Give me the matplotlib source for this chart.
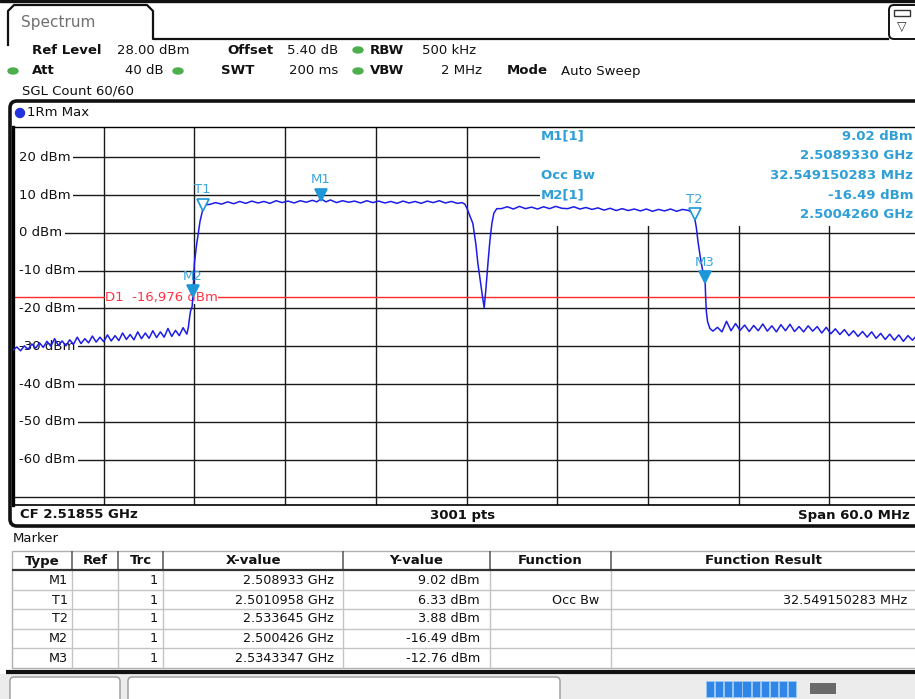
import matplotlib.pyplot as plt
from matplotlib.patches import Rectangle, FancyBboxPatch, Ellipse
from matplotlib.transforms import offset_copy

W, H = 915, 699

# analyzer settings
start_ghz = 2.48855
span_mhz = 60.0
ref_level = 28.0
db_per_div = 10.0
d1_level = -16.976
y_tick_values = [20, 10, 0, -10, -20, -30, -40, -50, -60]

# trace: offset from start frequency (MHz) and level (dBm)
low_left_mhz = [0.0, 0.25, 0.5, 0.75, 1.0, 1.25, 1.5, 1.75, 2.0, 2.25, 2.5, 2.75, 3.0, 3.25,
                3.5, 3.75, 4.0, 4.25, 4.5, 4.75, 5.0, 5.25, 5.5, 5.75, 6.0, 6.25, 6.5, 6.75,
                7.0, 7.25, 7.5, 7.75, 8.0, 8.25, 8.5, 8.75, 9.0, 9.25, 9.5, 9.75, 10.0,
                10.25, 10.5, 10.75, 11.0, 11.25, 11.5]
low_left_dbm = [-31.0, -30.2, -31.2, -29.9, -30.8, -29.4, -30.5, -29.1, -30.3, -28.7, -30.0,
                -28.0, -29.8, -28.6, -29.9, -28.3, -29.5, -27.6, -29.3, -28.0, -29.1, -27.3,
                -28.9, -27.6, -28.8, -27.0, -28.6, -27.2, -28.5, -26.5, -28.2, -26.9, -28.3,
                -26.2, -28.0, -26.5, -27.9, -25.9, -27.7, -26.2, -27.6, -25.3, -27.4, -25.8,
                -27.2, -25.1, -26.8]
rise_mhz = [11.6, 11.66, 11.74, 11.8, 11.85, 11.9, 11.95, 12.0, 12.15, 12.37, 12.59, 12.8]
rise_dbm = [-25.0, -23.0, -20.8, -20.0, -19.5, -16.5, -12.0, -8.0, -3.0, 3.0, 6.8, 7.5]
band1_mhz = [13.0, 13.4, 13.8, 14.2, 14.6, 15.0, 15.4, 15.8, 16.2, 16.6, 17.0, 17.4, 17.8,
             18.2, 18.6, 19.0, 19.4, 19.8, 20.1, 20.38, 20.7, 21.0, 21.4, 21.8, 22.2, 22.6,
             23.0, 23.4, 23.8, 24.2, 24.6, 25.0, 25.4, 25.8, 26.2, 26.6, 27.0, 27.4, 27.8,
             28.2, 28.6, 29.0, 29.4, 29.7]
band1_dbm = [7.5, 8.0, 7.6, 8.2, 7.7, 8.3, 7.8, 8.4, 7.9, 8.3, 7.8, 8.5, 8.0, 8.4, 7.9, 8.5,
             8.1, 8.6, 8.2, 9.0, 8.2, 8.7, 8.0, 8.5, 8.1, 8.4, 7.9, 8.5, 8.0, 8.4, 7.9, 8.3,
             7.8, 8.4, 7.9, 8.3, 7.8, 8.4, 8.0, 8.5, 7.9, 8.3, 7.8, 8.0]
notch_mhz = [29.89, 30.03, 30.22, 30.42, 30.62, 30.75, 30.92, 31.08, 31.17, 31.28, 31.42,
             31.55, 31.68, 31.81, 32.0]
notch_dbm = [7.6, 6.5, 4.5, 2.5, -3.0, -8.0, -13.0, -17.5, -19.8, -15.0, -8.0, -2.0, 2.5,
             5.2, 6.4]
band2_mhz = [32.3, 32.7, 33.1, 33.5, 33.9, 34.3, 34.7, 35.1, 35.5, 35.9, 36.3, 36.7, 37.1,
             37.5, 37.9, 38.3, 38.7, 39.1, 39.5, 39.9, 40.3, 40.7, 41.1, 41.5, 41.9, 42.3,
             42.7, 43.1, 43.5, 43.9, 44.3, 44.7, 45.0]
band2_dbm = [6.4, 6.9, 6.3, 7.0, 6.4, 6.8, 6.3, 6.9, 6.4, 7.0, 6.5, 6.4, 6.9, 6.3, 6.7, 6.2,
             6.6, 6.0, 6.5, 5.9, 6.4, 5.9, 6.3, 5.8, 6.3, 5.7, 6.2, 5.8, 6.3, 5.7, 6.2, 5.9,
             5.2]
fall_mhz = [45.095, 45.2, 45.32, 45.45, 45.6, 45.75, 45.785, 45.82, 45.87, 45.95, 46.1, 46.3]
fall_dbm = [3.88, 1.5, -2.5, -6.0, -9.5, -12.0, -12.76, -17.0, -21.0, -23.5, -25.3, -26.0]
low_right_mhz = [46.6, 46.9, 47.2, 47.5, 47.8, 48.1, 48.4, 48.7, 49.0, 49.3, 49.6, 49.9, 50.2,
                 50.5, 50.8, 51.1, 51.4, 51.7, 52.0, 52.3, 52.6, 52.9, 53.2, 53.5, 53.8, 54.1,
                 54.4, 54.7, 55.0, 55.3, 55.6, 55.9, 56.2, 56.5, 56.8, 57.1, 57.4, 57.7, 58.0,
                 58.3, 58.6, 58.9, 59.2, 59.5, 59.8, 60.0]
low_right_dbm = [-25.0, -26.2, -23.4, -25.9, -24.0, -25.8, -24.4, -26.1, -24.5, -25.9, -24.1,
                 -26.0, -24.6, -26.2, -24.3, -25.9, -24.2, -26.1, -24.8, -26.2, -24.6, -26.0,
                 -24.8, -26.5, -25.0, -26.7, -25.4, -26.9, -25.6, -27.2, -25.9, -27.4, -26.1,
                 -27.6, -26.2, -27.9, -26.6, -28.2, -26.8, -28.4, -27.0, -28.7, -27.2, -28.4,
                 -27.1, -27.9]

# markers
marker_names = ['M1', 'T1', 'T2', 'M2', 'M3']
marker_ghz = [2.508933, 2.5010958, 2.533645, 2.500426, 2.5343347]
marker_dbm = [9.02, 6.33, 3.88, -16.49, -12.76]
marker_filled = [True, False, False, True, True]

# marker table
table_headers = ['Type', 'Ref', 'Trc', 'X-value', 'Y-value', 'Function', 'Function Result']
table_type = ['M1', 'T1', 'T2', 'M2', 'M3']
table_trc = ['1', '1', '1', '1', '1']
table_x = ['2.508933 GHz', '2.5010958 GHz', '2.533645 GHz', '2.500426 GHz', '2.5343347 GHz']
table_y = ['9.02 dBm', '6.33 dBm', '3.88 dBm', '-16.49 dBm', '-12.76 dBm']
table_func = ['', 'Occ Bw', '', '', '']
table_result = ['', '32.549150283 MHz', '', '', '']

# marker info box
info_left = ['M1[1]', '', 'Occ Bw', 'M2[1]', '']
info_right = ['9.02 dBm', '2.5089330 GHz', '32.549150283 MHz', '-16.49 dBm', '2.5004260 GHz']

trace_mhz = low_left_mhz + rise_mhz + band1_mhz + notch_mhz + band2_mhz + fall_mhz + low_right_mhz
trace_dbm = low_left_dbm + rise_dbm + band1_dbm + notch_dbm + band2_dbm + fall_dbm + low_right_dbm
trace_ghz = [start_ghz + f / 1000.0 for f in trace_mhz]

plt.rcParams['font.family'] = ['DejaVu Sans']
fig = plt.figure(figsize=(W / 100, H / 100), dpi=100)
fig.patch.set_facecolor('white')

# background canvas in pixel coordinates
bg = fig.add_axes([0, 0, 1, 1])
bg.set_xlim(0, W)
bg.set_ylim(H, 0)
bg.axis('off')


def ptext(x, y, s, **kw):
    kw.setdefault('va', 'center')
    kw.setdefault('fontsize', 9.5)
    kw.setdefault('color', '#111111')
    fig.text(x / W, 1 - y / H, s, **kw)


def hline(y, x0, x1, **kw):
    bg.plot([x0, x1], [y, y], solid_capstyle='butt', **kw)


def vline(x, y0, y1, **kw):
    bg.plot([x, x], [y0, y1], solid_capstyle='butt', **kw)


# screen top edge and tab
bg.add_patch(Rectangle((0, 0), W, 2, color='#111111'))
bg.plot([8, 8, 14, 147, 153, 153, 888], [45, 11, 5, 5, 11, 39, 39], color='#111111', lw=1.6)
ptext(21, 23, 'Spectrum', fontsize=11, color='#707070')
bg.add_patch(FancyBboxPatch((889, 5), 30, 34, boxstyle='round,pad=0,rounding_size=5',
                            fc='white', ec='#111111', lw=1.4))
bg.add_patch(Rectangle((894, 10), 16, 6, fc='none', ec='#333333', lw=1))
ptext(902, 27, '\u25bd', fontsize=9, ha='center', color='#333333')

# setting lines
ptext(32, 50, 'Ref Level', fontweight='bold')
ptext(117, 50, '28.00 dBm')
ptext(227, 50, 'Offset', fontweight='bold')
ptext(287, 50, '5.40 dB')
ptext(370, 50, 'RBW', fontweight='bold')
ptext(422, 50, '500 kHz')
ptext(32, 71, 'Att', fontweight='bold')
ptext(164, 71, '40 dB', ha='right')
ptext(221, 71, 'SWT', fontweight='bold')
ptext(289, 71, '200 ms')
ptext(370, 71, 'VBW', fontweight='bold')
ptext(482, 71, '2 MHz', ha='right')
ptext(507, 71, 'Mode', fontweight='bold')
ptext(561, 71, 'Auto Sweep')
ptext(22, 91, 'SGL Count 60/60')
for dx, dy in [(13, 71), (178, 71), (358, 50), (358, 71)]:
    bg.add_patch(Ellipse((dx, dy), 10, 6, color='#4cae4c'))

# plot window frame
bg.add_patch(FancyBboxPatch((10, 101), 920, 425, boxstyle='round,pad=0,rounding_size=7',
                            fc='white', ec='#111111', lw=2.6))
bg.add_patch(Ellipse((20, 113), 9, 9, color='#2233dd'))
ptext(27, 113, '1Rm Max')
ptext(20, 515, 'CF 2.51855 GHz', fontweight='bold')
ptext(463, 515, '3001 pts', fontweight='bold', ha='center')
ptext(910, 515, 'Span 60.0 MHz', fontweight='bold', ha='right')

# spectrum diagram
ax = fig.add_axes([13 / W, 1 - 505 / H, 907 / W, (505 - 127) / H])
ax.set_zorder(2)
f0, f1 = start_ghz, start_ghz + span_mhz / 1000.0
y0, y1 = ref_level - 10 * db_per_div, ref_level
ax.set_xlim(f0, f1)
ax.set_ylim(y0, y1)
ax.set_xticks([])
ax.set_yticks([])
ax.spines['left'].set_linewidth(2.4)
ax.spines['top'].set_linewidth(1.0)
ax.spines['bottom'].set_linewidth(1.2)
ax.spines['right'].set_visible(False)
for k in range(1, 10):
    ax.axvline(f0 + k * span_mhz / 10000.0, color='#1a1a1a', lw=1.0, zorder=1)
for v in range(-70, 21, 10):
    ax.axhline(v, color='#1a1a1a', lw=1.0, zorder=1)

# white area behind marker info
box_x = f0 + (540 - 13) / 907 * span_mhz / 1000.0
box_y = ref_level - (226 - 127) / 378 * 100
ax.add_patch(Rectangle((box_x, box_y), f1 - box_x, y1 - box_y, fc='white', ec='none', zorder=1.5))

yax = ax.get_yaxis_transform()
ax.add_patch(Rectangle((0, -65), 0.006, 90, transform=yax, fc='white', ec='none', zorder=1.8))
for v in y_tick_values:
    ax.text(0.007, v, f'{v} dBm', transform=yax, fontsize=9.5, va='center', color='#111111',
            bbox=dict(fc='white', ec='none', pad=1.5), zorder=2)

ax.axhline(d1_level, color='#ff2a2a', lw=1.0, zorder=2.5)
ax.text(f0 + 6.1 / 1000.0, d1_level, 'D1  -16,976 dBm', fontsize=9.5, color='#ff3344',
        va='center', bbox=dict(fc='white', ec='none', pad=0.3), zorder=2.6)

ax.plot(trace_ghz, trace_dbm, color='#1c1ce8', lw=1.1, zorder=4)

mk_tr = offset_copy(ax.transData, fig=fig, x=0, y=4, units='dots')
for name, mx, my, filled in zip(marker_names, marker_ghz, marker_dbm, marker_filled):
    ax.plot([mx], [my], marker='v', ms=8, color='#1e96d8', mfc='#1e96d8' if filled else 'white',
            mew=1.2, transform=mk_tr, zorder=5)
    ax.annotate(name, (mx, my), xytext=(0, 9), textcoords='offset points', ha='center',
                va='bottom', fontsize=9.5, color='#3aa6da', zorder=5)

# marker info text
for i, (lt, rt) in enumerate(zip(info_left, info_right)):
    yy = 136 + i * 19.7
    if lt:
        ptext(541, yy, lt, fontweight='bold', color='#2f9fd6')
    ptext(913, yy, rt, fontweight='bold', color='#2f9fd6', ha='right')

# marker table
ptext(13, 539, 'Marker')
col_sep = [72, 118, 163, 343, 490, 611]
col_edges = [12] + col_sep + [916]
row_y = [580, 600, 619, 638, 658]
bg.add_patch(Rectangle((12, 551), 904, 117, fc='white', ec='#b0b0b0', lw=1))
for x in col_sep:
    vline(x, 551, 570, color='#555555', lw=1.1)
    vline(x, 570, 668, color='#c4c4c4', lw=1)
hline(570, 12, 916, color='#333333', lw=1.6)
for y in [589.5, 609, 628.5, 648]:
    hline(y, 12, 916, color='#c4c4c4', lw=1)
for i, hd in enumerate(table_headers):
    ptext((col_edges[i] + col_edges[i + 1]) / 2, 561, hd, fontweight='bold', ha='center')
for i, y in enumerate(row_y):
    ptext(68, y, table_type[i], ha='right', fontsize=9.2)
    ptext(158, y, table_trc[i], ha='right', fontsize=9.2)
    ptext(334, y, table_x[i], ha='right', fontsize=9.2)
    ptext(480, y, table_y[i], ha='right', fontsize=9.2)
    if table_func[i]:
        ptext(599, y, table_func[i], ha='right', fontsize=9.2)
    if table_result[i]:
        ptext(907, y, table_result[i], ha='right', fontsize=9.2)

# status bar
bg.add_patch(Rectangle((0, 674), W, 25, color='#ececec'))
hline(672, 6, W, color='#111111', lw=3)
bg.add_patch(FancyBboxPatch((10, 677), 110, 30, boxstyle='round,pad=0,rounding_size=4',
                            fc='white', ec='#999999', lw=1))
bg.add_patch(FancyBboxPatch((128, 677), 432, 30, boxstyle='round,pad=0,rounding_size=4',
                            fc='white', ec='#999999', lw=1))
for k in range(10):
    bg.add_patch(Rectangle((706 + k * 9.1, 681), 8.2, 16, fc='#2f86e6', ec='#9cc8f5', lw=0.6))
bg.add_patch(Rectangle((810, 683), 26, 11, fc='#6a6a6a', ec='none'))

fig.savefig('out.png', dpi=100)
